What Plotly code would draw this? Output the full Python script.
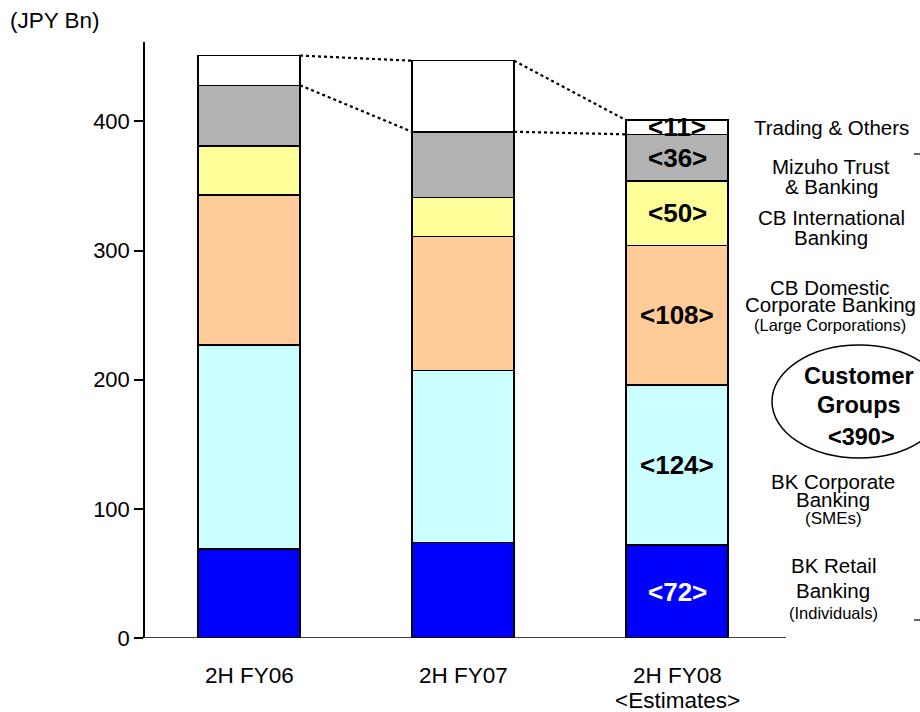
import plotly.graph_objects as go

# data (JPY Bn)
periods = ["2H FY06", "2H FY07", "2H FY08<br>&lt;Estimates&gt;"]
retail = [69, 74, 72]
smes = [158, 133, 124]
large_corp = [116, 104, 108]
intl = [38, 30, 50]
trust = [47, 51, 36]
others = [23, 55, 11]

segments = [
    ("BK Retail Banking", retail, "#0000FF"),
    ("BK Corporate Banking", smes, "#CCFFFF"),
    ("CB Domestic Corporate Banking", large_corp, "#FFCC99"),
    ("CB International Banking", intl, "#FFFF99"),
    ("Mizuho Trust & Banking", trust, "#B2B2B2"),
    ("Trading & Others", others, "#FFFFFF"),
]

FONT = "Arial, Liberation Sans, sans-serif"
BAR_W = 0.477
x = list(range(len(periods)))

fig = go.Figure()
for name, vals, col in segments:
    fig.add_trace(go.Bar(
        x=x, y=vals, name=name, width=BAR_W,
        marker=dict(color=col, line=dict(color="black", width=1.5)),
        hoverinfo="y+name",
    ))

# dotted connectors between tops of "Trading & Others" and "Mizuho Trust"
totals = [sum(s[1][i] for s in segments) for i in x]
gray_tops = [totals[i] - others[i] for i in x]
for tops in (totals, gray_tops):
    for i in range(len(x) - 1):
        fig.add_trace(go.Scatter(
            x=[x[i] + BAR_W / 2, x[i + 1] - BAR_W / 2],
            y=[tops[i], tops[i + 1]],
            mode="lines", line=dict(color="black", width=2.2, dash="dot"),
            hoverinfo="skip", showlegend=False,
        ))

# value labels inside the estimate bar
last = len(periods) - 1
base = 0
for name, vals, col in segments:
    v = vals[last]
    fig.add_annotation(
        x=x[last], y=base + v / 2, text=f"<b>&lt;{v}&gt;</b>", showarrow=False,
        font=dict(family=FONT, size=26, color="white" if col == "#0000FF" else "black"),
    )
    base += v

# pixel -> paper helpers (plot area: x 145..786, y 42..638)
L, R, T, B = 145, 786, 42, 638
def px(xp):
    return (xp - L) / (R - L)
def py(yp):
    return (B - yp) / (B - T)

# category labels under the bars (tight line spacing like the original)
for i, lab in enumerate(periods):
    for k, line in enumerate(lab.split("<br>")):
        fig.add_annotation(
            x=x[i], xref="x", yref="paper", y=py(675 + 25 * k), text=line,
            showarrow=False, xanchor="center", yanchor="middle",
            font=dict(family=FONT, size=22.5, color="black"),
        )

side_lines = [
    ("Trading & Others", 831, 127, 20.5),
    ("Mizuho Trust", 831, 166, 20.5),
    ("& Banking", 831, 186, 20.5),
    ("CB International", 831, 217, 20.5),
    ("Banking", 831, 238, 20.5),
    ("CB Domestic", 830, 287, 20.5),
    ("Corporate Banking", 830, 304, 20.5),
    ("(Large Corporations)", 830, 325, 16.5),
    ("BK Corporate", 833, 481, 20.5),
    ("Banking", 833, 499, 20.5),
    ("(SMEs)", 833, 518, 17),
    ("BK Retail", 833, 565, 20.5),
    ("Banking", 833, 590, 20.5),
    ("(Individuals)", 833, 613, 16.5),
    ("<b>Customer</b>", 859, 376, 23.5),
    ("<b>Groups</b>", 859, 405, 23.5),
    ("<b>&lt;390&gt;</b>", 861, 437, 23.5),
]
for txt, cx, cy, sz in side_lines:
    fig.add_annotation(
        xref="paper", yref="paper", x=px(cx), y=py(cy), text=txt,
        showarrow=False, xanchor="center", yanchor="middle",
        font=dict(family=FONT, size=sz, color="black"),
    )

fig.add_annotation(
    xref="paper", yref="paper", x=px(8), y=py(20), text="(JPY Bn)",
    showarrow=False, xanchor="left", yanchor="middle",
    font=dict(family=FONT, size=22.5, color="black"),
)

shapes = [
    dict(type="circle", xref="paper", yref="paper",
         x0=px(772), x1=px(946), y0=py(458), y1=py(345),
         line=dict(color="black", width=1.5)),
    dict(type="line", xref="paper", yref="y", x0=px(137), x1=1, y0=0, y1=0,
         line=dict(color="black", width=1.5)),
    dict(type="line", xref="paper", yref="paper", x0=px(914), x1=px(921),
         y0=py(154), y1=py(154), line=dict(color="black", width=1.2)),
    dict(type="line", xref="paper", yref="paper", x0=px(914), x1=px(921),
         y0=py(620), y1=py(620), line=dict(color="black", width=1.2)),
]

fig.update_layout(
    width=920, height=712,
    margin=dict(l=L, r=920 - R, t=T, b=712 - B),
    barmode="stack", showlegend=False,
    plot_bgcolor="white", paper_bgcolor="white",
    font=dict(family=FONT, size=21, color="black"),
    shapes=shapes,
    xaxis=dict(
        range=[-0.486, 2.509], tickvals=x, showticklabels=False,
        showgrid=False, zeroline=False, showline=False, automargin=False,
    ),
    yaxis=dict(
        range=[0, 461.5], tickvals=[0, 100, 200, 300, 400],
        showgrid=False, zeroline=False, automargin=False,
        showline=True, linecolor="black", linewidth=1.5,
        ticks="outside", ticklen=9, tickwidth=1.5, tickcolor="black",
        tickfont=dict(family=FONT, size=22, color="black"),
    ),
)

# drop the default page margin so the 920x712 figure fills the window exactly
fig.write_html("out.html", config={"displayModeBar": False},
               post_script="document.body.style.margin='0';document.body.style.overflow='hidden';")
